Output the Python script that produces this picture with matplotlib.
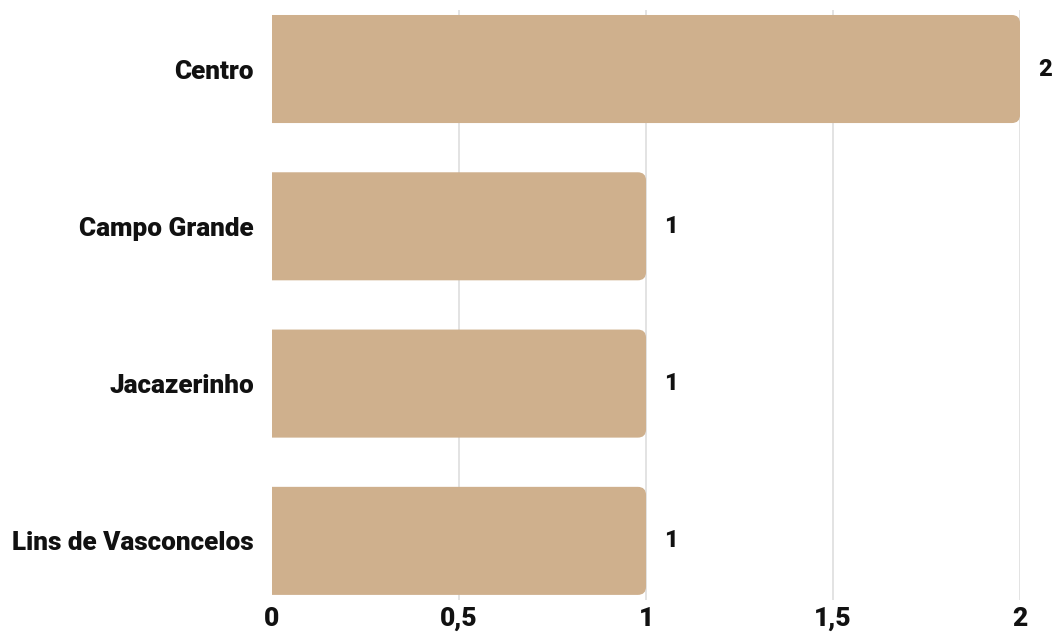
import matplotlib
matplotlib.use("Agg")
import matplotlib.pyplot as plt
from matplotlib.patches import FancyBboxPatch

# Neighbourhood counts
bairros = ["Centro", "Campo Grande", "Jacazerinho", "Lins de Vasconcelos"]
valores = [2, 1, 1, 1]
ticks = [0, 0.5, 1, 1.5, 2]
tick_labels = ["0", "0,5", "1", "1,5", "2"]

bar_color = "#cfb08d"
plt.rcParams["font.family"] = ["Roboto", "DejaVu Sans"]
plt.rcParams["font.weight"] = "heavy"

fig = plt.figure(figsize=(10.53, 6.35), dpi=100)
ax = fig.add_axes([0.2583, 0.0551, 0.7104, 0.9291])

ax.set_xlim(0, 2)
ax.set_ylim(3.376, -0.375)

# Rounded bars: the left end starts before zero so only the right corners show
bar_h = 0.687
aspect = (0.7104 * 1053 / 2) / (0.9291 * 635 / 3.751)
for i, v in enumerate(valores):
    patch = FancyBboxPatch((-0.1, i - bar_h / 2), v + 0.1, bar_h,
                           boxstyle="round,pad=0,rounding_size=0.022",
                           mutation_aspect=aspect,
                           facecolor=bar_color, edgecolor="none", zorder=2)
    ax.add_patch(patch)
    ax.annotate(str(v), xy=(v, i), xytext=(13, 0), textcoords="offset points",
                ha="left", va="center", fontsize=17, fontweight="heavy",
                color="#111111", annotation_clip=False)

ax.set_yticks(range(len(bairros)))
ax.set_yticklabels(bairros, fontsize=18.8, fontweight="heavy", color="#111111")
ax.set_xticks(ticks)
ax.set_xticklabels(tick_labels, fontsize=19, fontweight="heavy", color="#111111")
ax.tick_params(axis="y", length=0, pad=13)
ax.tick_params(axis="x", length=0, pad=5)

ax.grid(axis="x", color="#e0e0e0", linewidth=1.3, zorder=0)
ax.set_axisbelow(True)
ax.get_xgridlines()[0].set_visible(False)
for s in ax.spines.values():
    s.set_visible(False)

fig.savefig("out.png", dpi=100)
